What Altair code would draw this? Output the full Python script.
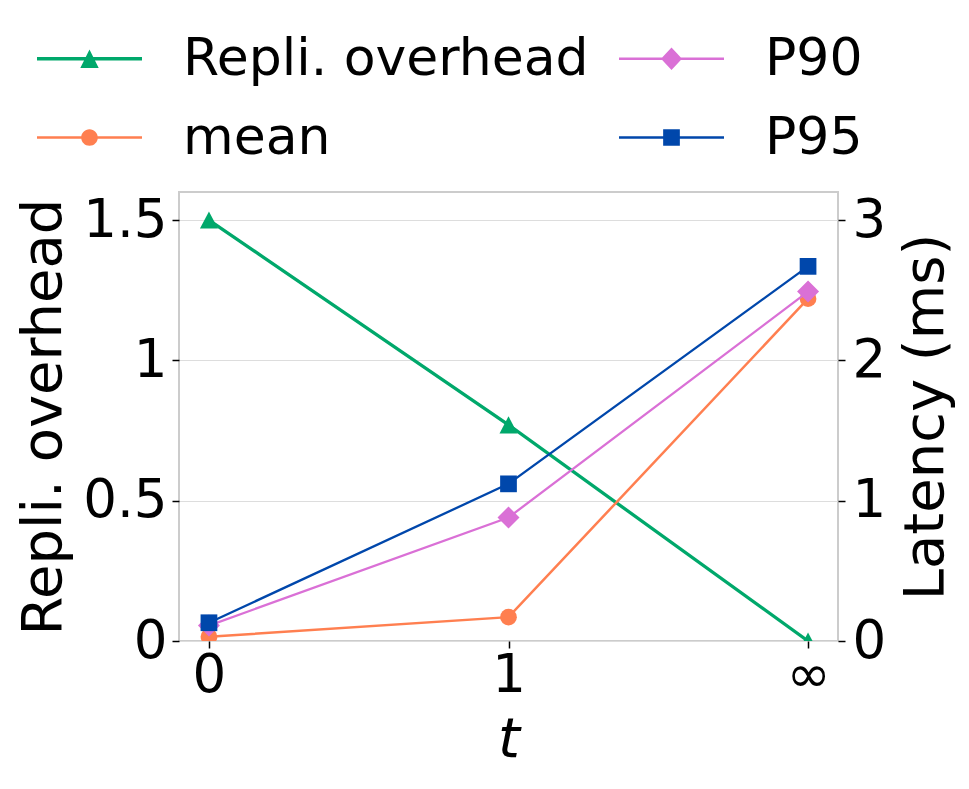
import altair as alt
import pandas as pd

# ---- data ----
t_labels = ["0", "1", "∞"]
repli_overhead = [1.5, 0.77, 0.0]          # left axis
latency_mean = [0.03, 0.17, 2.44]          # right axis (ms)
latency_p90 = [0.11, 0.88, 2.49]
latency_p95 = [0.13, 1.12, 2.67]

# legend order (filled column by column in a 2-column legend)
series_names = ["Repli. overhead", "mean", "P90", "P95"]
series_colors = ["#00a86b", "#ff7f50", "#da70d6", "#0047ab"]
color_of = dict(zip(series_names, series_colors))

rows = []
for name, vals in [("Repli. overhead", repli_overhead), ("mean", latency_mean),
                   ("P90", latency_p90), ("P95", latency_p95)]:
    for t, v in zip(t_labels, vals):
        rows.append({"t": t, "series": name, "value": v})
df = pd.DataFrame(rows)

FONT = "DejaVu Sans"

# legend symbols: line segment + marker (unit = half of symbol length)
legend_paths = [
    "M-1,-0.031H1V0.031H-1Z M0,-0.175L0.175,0.175L-0.175,0.175Z",            # triangle
    "M-1,-0.025H1V0.025H-1Z M0.158,0A0.158,0.158 0 1,1 -0.158,0A0.158,0.158 0 1,1 0.158,0Z",  # circle
    "M-1,-0.022H1V0.022H-1Z M0,-0.215L0.2,0L0,0.215L-0.2,0Z",                 # diamond
    "M-1,-0.022H1V0.022H-1Z M-0.159,-0.159H0.159V0.159H-0.159Z",             # square
]

x_enc = alt.X(
    "t:N", sort=t_labels,
    scale=alt.Scale(type="point", padding=0.1),
    axis=alt.Axis(title="t", titleFontStyle="italic", labelAngle=0,
                  labelPadding=1, titlePadding=10, grid=False),
)

left_y = alt.Y(
    "value:Q",
    scale=alt.Scale(domain=[0, 1.6], nice=False, zero=True),
    axis=alt.Axis(orient="left", title="Repli. overhead", values=[0, 0.5, 1, 1.5],
                  format="~g", grid=True, gridColor="#dddddd", gridWidth=1.2,
                  titlePadding=10, labelPadding=5),
)
right_y = alt.Y(
    "value:Q",
    scale=alt.Scale(domain=[0, 3.2], nice=False, zero=True),
    axis=alt.Axis(orient="right", title="Latency (ms)", values=[0, 1, 2, 3],
                  format="~g", grid=False, titleAngle=270, titleBaseline="top",
                  titlePadding=13, labelPadding=7),
)

base = alt.Chart(df)


def series_layer(name, y_enc, shape, size, stroke_width):
    sub = base.transform_filter(alt.datum.series == name)
    c = color_of[name]
    line = sub.mark_line(color=c, strokeWidth=stroke_width, clip=True).encode(x=x_enc, y=y_enc)
    pts = sub.mark_point(shape=shape, size=size, filled=True, color=c, opacity=1, clip=True).encode(
        x=x_enc, y=y_enc)
    return line + pts


legend_def = alt.Legend(title=None, orient="none", legendX=-142, legendY=-186, columns=2)
legend_layer = base.mark_point(filled=True, opacity=0, clip=True).encode(
    x=x_enc, y=left_y,
    color=alt.Color("series:N", scale=alt.Scale(domain=series_names, range=series_colors),
                    legend=legend_def),
    shape=alt.Shape("series:N", scale=alt.Scale(domain=series_names, range=legend_paths),
                    legend=legend_def),
)

left = alt.layer(
    series_layer("Repli. overhead", left_y, "M0,-0.95L1,0.95L-1,0.95Z", 324, 3.3),
    legend_layer,
)
right = alt.layer(
    series_layer("mean", right_y, "circle", 280, 2.5),
    series_layer("P90", right_y, "diamond", 484, 2.3),
    series_layer("P95", right_y, "square", 280, 2.3),
)

chart = (
    alt.layer(left, right)
    .resolve_scale(y="independent")
    .properties(
        width=659, height=449,
        autosize=alt.AutoSizeParams(type="none"),
        padding={"left": 171, "top": 184, "right": 120, "bottom": 130},
    )
    .configure(font=FONT)
    .configure_view(stroke="#cccccc", strokeWidth=2)
    .configure_axis(
        labelFont=FONT, titleFont=FONT, labelFontSize=53, titleFontSize=56,
        labelColor="black", titleColor="black", titleFontWeight="normal",
        tickColor="black", tickSize=7, tickWidth=1.5, domain=False,
    )
    .configure_legend(
        labelFont=FONT, labelFontSize=52, labelColor="black", labelLimit=1000,
        labelOffset=41, symbolSize=11025, symbolStrokeWidth=0, symbolOpacity=1,
        columnPadding=30, rowPadding=-6, padding=0,
    )
)

chart.save("out.html", embed_options={"renderer": "svg", "actions": False})
